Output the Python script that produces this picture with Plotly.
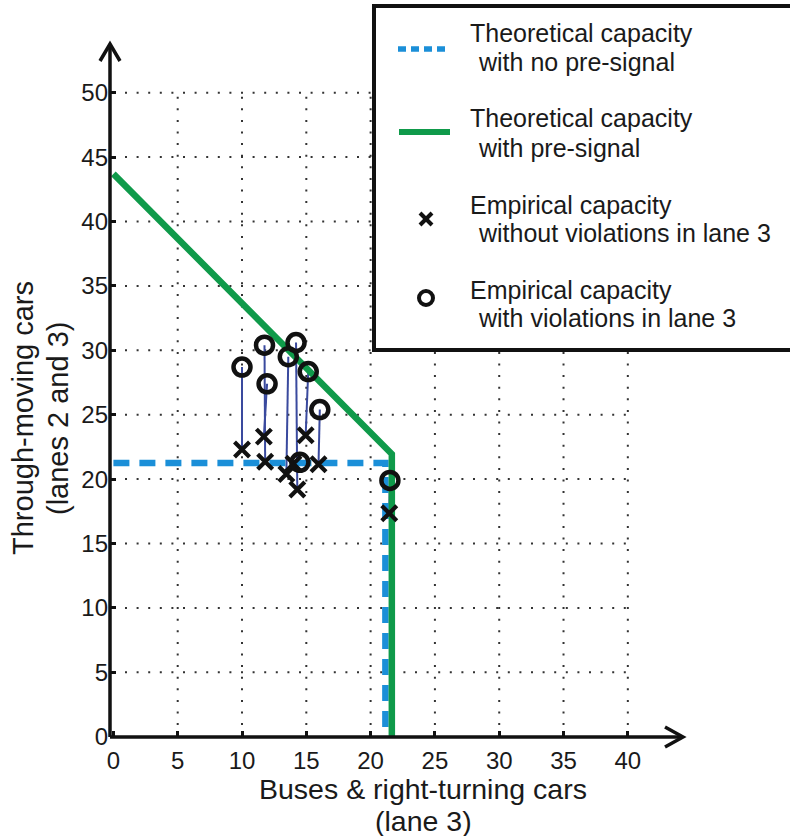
import plotly.graph_objects as go

# ---------------- data ----------------
green_x = [0, 21.65, 21.65]
green_y = [43.7, 21.95, 0]
blue_x = [0, 21.15, 21.15]
blue_y = [21.25, 21.25, 0.7]

circ_x = [10.0, 11.75, 11.95, 13.6, 14.2, 15.15, 16.05, 14.5, 21.5]
circ_y = [28.7, 30.4, 27.4, 29.5, 30.6, 28.35, 25.4, 21.3, 19.9]
cross_x = [10.0, 11.8, 11.7, 13.45, 14.3, 14.95, 15.95, 14.0, 21.45]
cross_y = [22.3, 21.35, 23.3, 20.4, 19.2, 23.4, 21.15, 21.2, 17.35]

x_ticks = [0, 5, 10, 15, 20, 25, 30, 35, 40]
y_ticks = [0, 5, 10, 15, 20, 25, 30, 35, 40, 45, 50]

legend_labels = [
    ("Theoretical capacity", "with no pre-signal"),
    ("Theoretical capacity", "with pre-signal"),
    ("Empirical capacity", "without violations in lane 3"),
    ("Empirical capacity", "with violations in lane 3"),
]

# ---------------- layout geometry ----------------
W, H = 790, 836
PLOT_L, PLOT_R, PLOT_T, PLOT_B = 110, 683, 43, 737   # screen pixels
L, T = PLOT_L, PLOT_T
R, B = W - PLOT_R, H - PLOT_B
PW, PH = PLOT_R - PLOT_L, PLOT_B - PLOT_T
X_RANGE = [-0.264, 44.29]
Y_RANGE = [-0.023, 53.86]
FONT = "Liberation Sans, Arial, sans-serif"
TXT = "#1a1a1a"


def px(x):
    return (x - PLOT_L) / PW


def py(y):
    return (PLOT_B - y) / PH


fig = go.Figure()

# connecting lines circle -> cross
lx, ly = [], []
for cx, cy, xx, xy in zip(circ_x, circ_y, cross_x, cross_y):
    lx += [cx, xx, None]
    ly += [cy, xy, None]
fig.add_trace(go.Scatter(x=lx, y=ly, mode="lines",
                         line=dict(color="#3a4a9e", width=2),
                         hoverinfo="skip", showlegend=False))

fig.add_trace(go.Scatter(x=blue_x, y=blue_y, mode="lines",
                         line=dict(color="#1b8fd8", width=6.5, dash="16px,10px"),
                         showlegend=False))
fig.add_trace(go.Scatter(x=green_x, y=green_y, mode="lines",
                         line=dict(color="#0f9a4a", width=6.5),
                         showlegend=False))
fig.add_trace(go.Scatter(x=cross_x, y=cross_y, mode="markers",
                         marker=dict(symbol="x-thin", size=15,
                                     line=dict(color="#111", width=4.2)),
                         cliponaxis=False, showlegend=False))
fig.add_trace(go.Scatter(x=circ_x, y=circ_y, mode="markers",
                         marker=dict(symbol="circle-open", size=17, color="#111",
                                     line=dict(color="#111", width=4.5)),
                         cliponaxis=False, showlegend=False))

shapes = []
# dotted grid limited to [0,40] x [0,50]
for v in x_ticks[1:]:
    shapes.append(dict(type="line", xref="x", yref="y", x0=v, x1=v, y0=0, y1=50,
                       line=dict(color="#333", width=2, dash="2px,9.6px"), layer="below"))
for v in y_ticks[1:]:
    shapes.append(dict(type="line", xref="x", yref="y", x0=0, x1=40, y0=v, y1=v,
                       line=dict(color="#333", width=2, dash="2px,9.6px"), layer="below"))


def path(points):
    return " ".join(("M" if i == 0 else "L") + f" {px(a):.5f},{py(b):.5f}"
                    for i, (a, b) in enumerate(points))


# axes with arrowheads
shapes.append(dict(type="path", xref="paper", yref="paper",
                   path=path([(110, 737), (110, 44)]),
                   line=dict(color="#111", width=3.5), layer="above"))
shapes.append(dict(type="path", xref="paper", yref="paper",
                   path=path([(100, 61), (110, 44), (120, 61)]),
                   line=dict(color="#111", width=3.5), layer="above"))
shapes.append(dict(type="path", xref="paper", yref="paper",
                   path=path([(110, 737), (683, 737)]),
                   line=dict(color="#111", width=3.5), layer="above"))
shapes.append(dict(type="path", xref="paper", yref="paper",
                   path=path([(665, 727), (683, 737), (665, 747)]),
                   line=dict(color="#111", width=3.5), layer="above"))

# legend box: white fill, border on left/top/bottom only (runs off the right edge)
shapes.append(dict(type="rect", xref="paper", yref="paper",
                   x0=px(374), x1=px(792), y0=py(350), y1=py(6),
                   fillcolor="white", line=dict(width=0), layer="above"))
shapes.append(dict(type="path", xref="paper", yref="paper",
                   path=path([(795, 6), (374, 6), (374, 350), (795, 350)]),
                   line=dict(color="#111", width=4), layer="above"))
# legend symbols
shapes.append(dict(type="line", xref="paper", yref="paper",
                   x0=px(398), x1=px(446), y0=py(49), y1=py(49),
                   line=dict(color="#1b8fd8", width=5.5, dash="8px,5px"), layer="above"))
shapes.append(dict(type="line", xref="paper", yref="paper",
                   x0=px(399), x1=px(450), y0=py(132), y1=py(132),
                   line=dict(color="#0f9a4a", width=6), layer="above"))
for (a0, b0, a1, b1) in [(420, 213, 432, 225), (420, 225, 432, 213)]:
    shapes.append(dict(type="line", xref="paper", yref="paper",
                       x0=px(a0), x1=px(a1), y0=py(b0), y1=py(b1),
                       line=dict(color="#111", width=4), layer="above"))
shapes.append(dict(type="circle", xref="paper", yref="paper",
                   x0=px(419), x1=px(433), y0=py(305), y1=py(291),
                   line=dict(color="#111", width=4), layer="above"))

annotations = []
row_y = [(33, 62), (118, 148), (205, 233), (290, 318)]
for (l1, l2), (y1, y2) in zip(legend_labels, row_y):
    annotations.append(dict(x=px(468), y=py(y1), xref="paper", yref="paper",
                            text=l1, showarrow=False, xanchor="left", yanchor="middle",
                            font=dict(family=FONT, size=25, color=TXT)))
    annotations.append(dict(x=px(476), y=py(y2), xref="paper", yref="paper",
                            text=l2, showarrow=False, xanchor="left", yanchor="middle",
                            font=dict(family=FONT, size=25, color=TXT)))

# axis titles
annotations.append(dict(x=px(423), y=py(789), xref="paper", yref="paper",
                        text="Buses & right-turning cars", showarrow=False,
                        xanchor="center", yanchor="middle",
                        font=dict(family=FONT, size=28.5, color=TXT)))
annotations.append(dict(x=px(423), y=py(821), xref="paper", yref="paper",
                        text="(lane 3)", showarrow=False,
                        xanchor="center", yanchor="middle",
                        font=dict(family=FONT, size=28.5, color=TXT)))
annotations.append(dict(x=px(23), y=py(418), xref="paper", yref="paper",
                        text="Through-moving cars", showarrow=False, textangle=-90,
                        xanchor="center", yanchor="middle",
                        font=dict(family=FONT, size=29, color=TXT)))
annotations.append(dict(x=px(58), y=py(419), xref="paper", yref="paper",
                        text="(lanes 2 and 3)", showarrow=False, textangle=-90,
                        xanchor="center", yanchor="middle",
                        font=dict(family=FONT, size=29, color=TXT)))

fig.update_layout(
    width=W, height=H,
    margin=dict(l=L, r=R, t=T, b=B, pad=0),
    paper_bgcolor="white", plot_bgcolor="white",
    showlegend=False,
    shapes=shapes, annotations=annotations,
    xaxis=dict(range=X_RANGE, tickvals=x_ticks, ticks="inside", ticklen=6,
               tickwidth=3, tickcolor="#111", showgrid=False, zeroline=False,
               showline=False, ticklabelstandoff=7,
               tickfont=dict(family=FONT, size=24, color=TXT)),
    yaxis=dict(range=Y_RANGE, tickvals=y_ticks, ticks="inside", ticklen=6,
               tickwidth=3, tickcolor="#111", showgrid=False, zeroline=False,
               showline=False, ticklabelstandoff=1,
               tickfont=dict(family=FONT, size=24, color=TXT)),
)

fig.write_html("out.html", config={"displayModeBar": False},
               post_script="document.body.style.margin='0';document.body.style.overflow='hidden';")
